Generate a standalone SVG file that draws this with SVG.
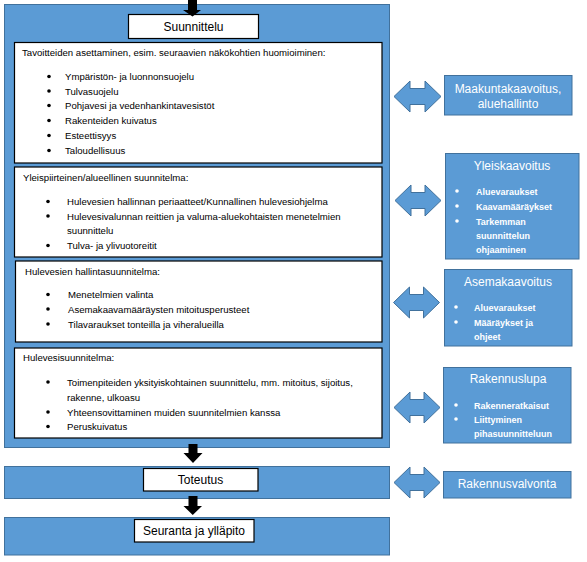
<svg xmlns="http://www.w3.org/2000/svg" width="587" height="562" viewBox="0 0 587 562">
<style>
.panel{fill:#5B9BD5;stroke:#41719C;stroke-width:1}
.wbox{fill:#FFFFFF;stroke:#000000;stroke-width:1.2}
.t{font-family:"Liberation Sans",Arial,sans-serif;font-size:9.6px;fill:#000}
.tc{font-family:"Liberation Sans",Arial,sans-serif;font-size:12px;fill:#000;text-anchor:middle}
.wt{font-family:"Liberation Sans",Arial,sans-serif;font-size:12px;fill:#FFF;text-anchor:middle}
.wb{font-family:"Liberation Sans",Arial,sans-serif;font-size:9px;font-weight:bold;fill:#FFF}
.bd{fill:#000}
.wd{fill:#FFF}
.arr{fill:#000}
.darr{fill:#5B9BD5;stroke:#41719C;stroke-width:1}
</style>
<rect width="587" height="562" fill="#FFFFFF"/>

<g id="suunnittelu-panel">
<rect class="panel" x="4.5" y="4.5" width="385" height="443"/>
</g>
<g id="suunnittelu">
<rect class="wbox" x="128.5" y="14.5" width="130" height="24"/>
<text class="tc" x="193.5" y="30.5">Suunnittelu</text>
</g>

<g id="tavoitteet">
<rect class="wbox" x="14.5" y="42.5" width="367.5" height="120.5"/>
<text class="t" x="22" y="55.5">Tavoitteiden asettaminen, esim. seuraavien näkökohtien huomioiminen:</text>
<circle class="bd" cx="49" cy="76.5" r="1.8"/><text class="t" x="65" y="80">Ympäristön- ja luonnonsuojelu</text>
<circle class="bd" cx="49" cy="91" r="1.8"/><text class="t" x="65" y="94.5">Tulvasuojelu</text>
<circle class="bd" cx="49" cy="105.5" r="1.8"/><text class="t" x="65" y="109">Pohjavesi ja vedenhankintavesistöt</text>
<circle class="bd" cx="49" cy="120.5" r="1.8"/><text class="t" x="65" y="124">Rakenteiden kuivatus</text>
<circle class="bd" cx="49" cy="135.5" r="1.8"/><text class="t" x="65" y="139">Esteettisyys</text>
<circle class="bd" cx="49" cy="150.5" r="1.8"/><text class="t" x="65" y="154">Taloudellisuus</text>
</g>

<g id="yleispiirteinen">
<rect class="wbox" x="14.5" y="167" width="367.5" height="90"/>
<text class="t" x="23" y="180.5">Yleispiirteinen/alueellinen suunnitelma:</text>
<circle class="bd" cx="48" cy="201.5" r="1.8"/><text class="t" x="67" y="205">Hulevesien hallinnan periaatteet/Kunnallinen hulevesiohjelma</text>
<circle class="bd" cx="48" cy="216" r="1.8"/><text class="t" x="67" y="219.5">Hulevesivalunnan reittien ja valuma-aluekohtaisten menetelmien</text>
<text class="t" x="67" y="234">suunnittelu</text>
<circle class="bd" cx="48" cy="245.5" r="1.8"/><text class="t" x="67" y="249">Tulva- ja ylivuotoreitit</text>
</g>

<g id="hallintasuunnitelma">
<rect class="wbox" x="15.5" y="261" width="366.5" height="81"/>
<text class="t" x="25" y="274.5">Hulevesien hallintasuunnitelma:</text>
<circle class="bd" cx="48" cy="294.5" r="1.8"/><text class="t" x="68" y="298">Menetelmien valinta</text>
<circle class="bd" cx="48" cy="309" r="1.8"/><text class="t" x="68" y="312.5">Asemakaavamääräysten mitoitusperusteet</text>
<circle class="bd" cx="48" cy="324" r="1.8"/><text class="t" x="68" y="327.5">Tilavaraukset tonteilla ja viheralueilla</text>
</g>

<g id="hulevesisuunnitelma">
<rect class="wbox" x="14.5" y="348" width="367.5" height="90"/>
<text class="t" x="23" y="361">Hulevesisuunnitelma:</text>
<circle class="bd" cx="48" cy="382" r="1.8"/><text class="t" x="67" y="385.5">Toimenpiteiden yksityiskohtainen suunnittelu, mm. mitoitus, sijoitus,</text>
<text class="t" x="67" y="400.5">rakenne, ulkoasu</text>
<circle class="bd" cx="48" cy="412" r="1.8"/><text class="t" x="67" y="415.5">Yhteensovittaminen muiden suunnitelmien kanssa</text>
<circle class="bd" cx="48" cy="426.5" r="1.8"/><text class="t" x="67" y="430">Peruskuivatus</text>
</g>

<g id="toteutus">
<rect class="panel" x="4.5" y="466.5" width="385" height="32"/>
<rect class="wbox" x="143.5" y="468.5" width="114.5" height="22.5"/>
<text class="tc" x="200.5" y="483.5">Toteutus</text>
</g>

<g id="seuranta">
<rect class="panel" x="4.5" y="517.5" width="385" height="37.5"/>
<rect class="wbox" x="134.5" y="519.5" width="119.5" height="22.5"/>
<text class="tc" x="194" y="534.5">Seuranta ja ylläpito</text>
</g>

<g id="maakuntakaavoitus">
<rect class="panel" x="444.5" y="75.5" width="127.5" height="39.5"/>
<text class="wt" x="508" y="92.5">Maakuntakaavoitus,</text>
<text class="wt" x="508" y="107.5">aluehallinto</text>
</g>

<g id="yleiskaavoitus">
<rect class="panel" x="445.5" y="153.5" width="133.5" height="105.5"/>
<text class="wt" x="512" y="169.5">Yleiskaavoitus</text>
<circle class="wd" cx="457" cy="191" r="1.8"/><text class="wb" x="476" y="194.5">Aluevaraukset</text>
<circle class="wd" cx="457" cy="206" r="1.8"/><text class="wb" x="476" y="209.5">Kaavamääräykset</text>
<circle class="wd" cx="457" cy="221" r="1.8"/><text class="wb" x="476" y="224.5">Tarkemman</text>
<text class="wb" x="476" y="238.5">suunnittelun</text>
<text class="wb" x="476" y="252.5">ohjaaminen</text>
</g>

<g id="asemakaavoitus">
<rect class="panel" x="444.5" y="269.5" width="127.5" height="76.5"/>
<text class="wt" x="508" y="285.5">Asemakaavoitus</text>
<circle class="wd" cx="456" cy="307" r="1.8"/><text class="wb" x="474" y="310.5">Aluevaraukset</text>
<circle class="wd" cx="456" cy="322" r="1.8"/><text class="wb" x="474" y="325.5">Määräykset ja</text>
<text class="wb" x="474" y="339.5">ohjeet</text>
</g>

<g id="rakennuslupa">
<rect class="panel" x="443.5" y="367.5" width="127.5" height="75.5"/>
<text class="wt" x="508" y="382.5">Rakennuslupa</text>
<circle class="wd" cx="456" cy="405" r="1.8"/><text class="wb" x="474" y="408.5">Rakenneratkaisut</text>
<circle class="wd" cx="456" cy="419" r="1.8"/><text class="wb" x="474" y="422.5">Liittyminen</text>
<text class="wb" x="474" y="436.5">pihasuunnitteluun</text>
</g>

<g id="rakennusvalvonta">
<rect class="panel" x="443.5" y="471.5" width="127.5" height="26.5"/>
<text class="wt" x="507" y="487.5">Rakennusvalvonta</text>
</g>

<g id="connectors">
<path class="arr" d="M188,0 H197 V10 H201 L192.5,16.5 L183,10 H188 Z"/>
<path class="arr" d="M188.5,444 H197.5 V453 H202.5 L193,463 L183.5,453 H188.5 Z"/>
<path class="arr" d="M188.5,496 H197.5 V506 H202 L192.75,515 L183.5,506 H188.5 Z"/>
<path class="darr" d="M394,96.5 L410,81 V88.5 H425 V81 L441,96.5 L425,112 V104.5 H410 V112 Z"/>
<path class="darr" d="M395,200.5 L411,185 V192.5 H425 V185 L441,200.5 L425,216 V208.5 H411 V216 Z"/>
<path class="darr" d="M393.5,302.5 L409.5,287 V294.5 H423.5 V287 L439.5,302.5 L423.5,318 V310.5 H409.5 V318 Z"/>
<path class="darr" d="M394,407.5 L410,392 V399.5 H424 V392 L440,407.5 L424,423 V415.5 H410 V423 Z"/>
<path class="darr" d="M394,482.5 L410,467 V474.5 H424 V467 L440,482.5 L424,498 V490.5 H410 V498 Z"/>
</g>
</svg>
